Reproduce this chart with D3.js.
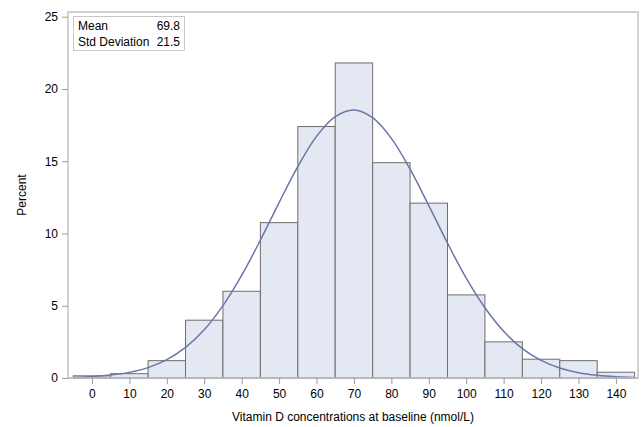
<!DOCTYPE html>
<html>
<head>
<meta charset="utf-8">
<script src="https://cdn.jsdelivr.net/npm/d3@7"></script>
<style>
  html, body { margin: 0; padding: 0; background: #fff; }
  svg { display: block; font-family: "Liberation Sans", Arial, sans-serif; }
</style>
</head>
<body>
<svg id="chart" width="641" height="427"></svg>
<script>
// ---- data ----
const binMidpoints = [0, 10, 20, 30, 40, 50, 60, 70, 80, 90, 100, 110, 120, 130, 140];
const binPercents  = [0.15, 0.3, 1.2, 4.0, 6.0, 10.75, 17.4, 21.8, 14.9, 12.1, 5.75, 2.5, 1.3, 1.2, 0.4];
const binWidth = 10;
const curveX = [-5, 0, 5, 10, 15, 20, 25, 30, 35, 40, 45, 50, 55, 60, 65, 70, 75, 80, 85, 90, 95, 100, 105, 110, 115, 120, 125, 130, 135, 140, 145];
const curveY = [0.04, 0.10, 0.20, 0.39, 0.72, 1.27, 2.12, 3.34, 5.01, 7.10, 9.54, 12.14, 14.63, 16.72, 18.09, 18.55, 18.01, 16.58, 14.45, 11.93, 9.33, 6.91, 4.86, 3.23, 2.03, 1.22, 0.69, 0.37, 0.19, 0.09, 0.04];
const xTicks = [0, 10, 20, 30, 40, 50, 60, 70, 80, 90, 100, 110, 120, 130, 140];
const yTicks = [0, 5, 10, 15, 20, 25];
const statLabels = ["Mean", "Std Deviation"];
const statValues = ["69.8", "21.5"];
const xTitle = "Vitamin D concentrations at baseline (nmol/L)";
const yTitle = "Percent";

// ---- layout ----
const svg = d3.select("#chart");
const L = 68, R = 638, T = 12, B = 378;

const x = d3.scaleLinear().domain([-6.4, 145.9]).range([L, R]);
const y = d3.scaleLinear().domain([0, 25]).range([B, 16.7]);

// bars
svg.append("g").selectAll("rect")
  .data(binMidpoints.map((m, i) => ({ m, v: binPercents[i] })))
  .join("rect")
  .attr("x", d => x(d.m - binWidth / 2))
  .attr("width", d => x(d.m + binWidth / 2) - x(d.m - binWidth / 2))
  .attr("y", d => y(d.v))
  .attr("height", d => y(0) - y(d.v))
  .attr("fill", "#e4e8f2")
  .attr("stroke", "#6e6e6e")
  .attr("stroke-width", 1);

// normal curve
const line = d3.line().x(d => x(d[0])).y(d => y(d[1])).curve(d3.curveCatmullRom);
svg.append("path")
  .datum(curveX.map((v, i) => [v, curveY[i]]))
  .attr("d", line)
  .attr("fill", "none")
  .attr("stroke", "#6c76a8")
  .attr("stroke-width", 1.5);

// frame
svg.append("rect")
  .attr("x", L).attr("y", T).attr("width", R - L).attr("height", B - T)
  .attr("fill", "none").attr("stroke", "#c4c4c4").attr("stroke-width", 1.5);
// baseline
svg.append("line").attr("x1", L).attr("x2", R).attr("y1", B).attr("y2", B)
  .attr("stroke", "#b0b0b0").attr("stroke-width", 1);

// axes
const xAxis = svg.append("g").attr("transform", `translate(0,${B})`)
  .call(d3.axisBottom(x).tickValues(xTicks).tickSize(6).tickPadding(5));
const yAxis = svg.append("g").attr("transform", `translate(${L},0)`)
  .call(d3.axisLeft(y).tickValues(yTicks).tickSize(6).tickPadding(4));
[xAxis, yAxis].forEach(a => {
  a.select(".domain").remove();
  a.selectAll(".tick line").attr("stroke", "#9a9a9a");
  a.selectAll(".tick text").attr("fill", "#000").style("font-size", "12px")
    .style("font-family", '"Liberation Sans", Arial, sans-serif');
});

// titles
svg.append("text").attr("x", (L + R) / 2).attr("y", 421)
  .attr("text-anchor", "middle").style("font-size", "12px").text(xTitle);
svg.append("text").attr("transform", "translate(26,195) rotate(-90)")
  .attr("text-anchor", "middle").style("font-size", "12px").text(yTitle);

// stats inset
svg.append("rect").attr("x", 73.5).attr("y", 16.5).attr("width", 111).attr("height", 34)
  .attr("fill", "#fff").attr("stroke", "#c8c8c8").attr("stroke-width", 1);
statLabels.forEach((s, i) => {
  svg.append("text").attr("x", 78).attr("y", 30 + i * 16).style("font-size", "12px").text(s);
  svg.append("text").attr("x", 180).attr("y", 30 + i * 16).attr("text-anchor", "end")
    .style("font-size", "12px").text(statValues[i]);
});
</script>
</body>
</html>
